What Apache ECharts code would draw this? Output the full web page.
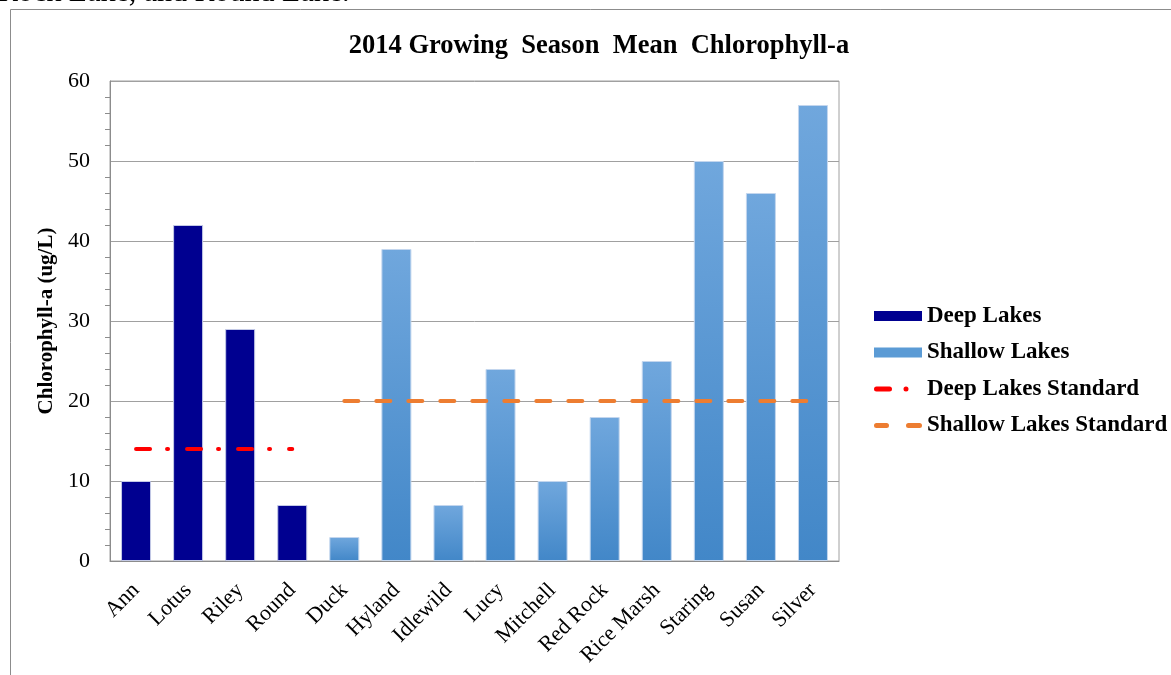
<!DOCTYPE html>
<html>
<head>
<meta charset="utf-8">
<script src="https://cdn.jsdelivr.net/npm/echarts@6/dist/echarts.min.js"></script>
<style>
html,body{margin:0;padding:0;background:#fff;}
#c{width:1171px;height:675px;}
</style>
</head>
<body>
<div id="c"></div>
<script>
var categories = ['Ann','Lotus','Riley','Round','Duck','Hyland','Idlewild','Lucy','Mitchell','Red Rock','Rice Marsh','Staring','Susan','Silver'];
var deepLakes = [10,42,29,7,'-','-','-','-','-','-','-','-','-','-'];
var shallowLakes = ['-','-','-','-',3,39,7,24,10,18,25,50,46,57];
var deepStandard = [14,14,14,14,'-','-','-','-','-','-','-','-','-','-'];
var shallowStandard = ['-','-','-','-',20,20,20,20,20,20,20,20,20,20];
var yTicks = [0,10,20,30,40,50,60];

var serif = '"Liberation Serif","Times New Roman",serif';
// legend icons (48 x 10 box, tiny corner marks fix the bounding box)
var corners = 'M0 0h0.05v0.05h-0.05z M47.95 9.95h0.05v0.05h-0.05z ';
var redIcon = 'path://' + corners + 'M2.5 2.5h13a2.5 2.5 0 0 1 0 5h-13a2.5 2.5 0 0 1 0 -5z M29.5 5a2.5 2.5 0 1 0 5 0a2.5 2.5 0 1 0 -5 0z';
var orangeIcon = 'path://' + corners + 'M2.5 2.5h10a2.5 2.5 0 0 1 0 5h-10a2.5 2.5 0 0 1 0 -5z M34.5 2.5h11a2.5 2.5 0 0 1 0 5h-11a2.5 2.5 0 0 1 0 -5z';

var chart = echarts.init(document.getElementById('c'), null, {renderer:'canvas'});
chart.setOption({
  animation:false,
  backgroundColor:'#fff',
  title:{
    text:'2014 Growing  Season  Mean  Chlorophyll-a',
    left:594, top:28, textAlign:'center',
    textStyle:{fontFamily:serif, fontWeight:'bold', fontSize:26.5, color:'#000'}
  },
  graphic:[
    {type:'text', left:-2, top:-22, style:{text:'Rock Lake, and Round Lake.', font:'30px '+serif, fill:'#000'}},
    {type:'line', shape:{x1:10.5,y1:9.5,x2:1171,y2:9.5}, style:{stroke:'#8c8c8c', lineWidth:1}},
    {type:'line', shape:{x1:10.5,y1:9.5,x2:10.5,y2:675}, style:{stroke:'#8c8c8c', lineWidth:1}}
  ],
  legend:{
    orient:'vertical', left:869, top:299, itemWidth:48, itemHeight:10, itemGap:12.5,
    textStyle:{fontFamily:serif, fontWeight:'bold', fontSize:23, color:'#000', lineHeight:24},
    data:[
      {name:'Deep Lakes', icon:'rect', itemStyle:{color:'#000090', borderWidth:0}},
      {name:'Shallow Lakes', icon:'rect', itemStyle:{color:'#5b9bd5', borderWidth:0}},
      {name:'Deep Lakes Standard', icon:redIcon, itemStyle:{color:'#ff0000'}},
      {name:'Shallow Lakes Standard', icon:orangeIcon, itemStyle:{color:'#ed7d31'}}
    ]
  },
  grid:{left:110, right:332, top:81, bottom:114, show:true, borderColor:'#a0a0a0', borderWidth:1},
  xAxis:{
    type:'category', data:categories,
    axisLine:{lineStyle:{color:'#8c8c8c'}},
    axisTick:{show:false},
    axisLabel:{rotate:45, margin:26, fontFamily:serif, fontSize:22, color:'#000', interval:0}
  },
  yAxis:{
    type:'value', min:yTicks[0], max:yTicks[yTicks.length-1], interval:10,
    name:'Chlorophyll-a (ug/L)', nameLocation:'middle', nameGap:51, nameRotate:90,
    nameTextStyle:{fontFamily:serif, fontWeight:'bold', fontSize:21, color:'#000'},
    axisLine:{show:true, lineStyle:{color:'#8c8c8c'}},
    axisTick:{show:false},
    minorTick:{show:true, splitNumber:5, length:5, lineStyle:{color:'#8c8c8c'}},
    axisLabel:{fontFamily:serif, fontSize:22, color:'#000', margin:20},
    splitLine:{lineStyle:{color:'#a0a0a0', width:1}}
  },
  series:[
    {name:'Deep Lakes', type:'bar', stack:'s', barWidth:30, data:deepLakes,
     itemStyle:{color:'#000090', borderColor:'#c3c9e6', borderWidth:1}},
    {name:'Shallow Lakes', type:'bar', stack:'s', barWidth:30, data:shallowLakes,
     itemStyle:{color:new echarts.graphic.LinearGradient(0,0,0,1,[{offset:0,color:'#70a7dd'},{offset:1,color:'#4287c8'}]), borderColor:'#c3d6ee', borderWidth:1}},
    {name:'Deep Lakes Standard', type:'line', data:deepStandard, symbol:'none', z:5,
     itemStyle:{color:'#ff0000'},
     lineStyle:{color:'#ff0000', width:4, type:[14,17,1,19], cap:'round'}},
    {name:'Shallow Lakes Standard', type:'line', data:shallowStandard, symbol:'none', z:5,
     itemStyle:{color:'#ed7d31'},
     lineStyle:{color:'#ed7d31', width:4, type:[14,18], cap:'round'}}
  ]
});
</script>
</body>
</html>
